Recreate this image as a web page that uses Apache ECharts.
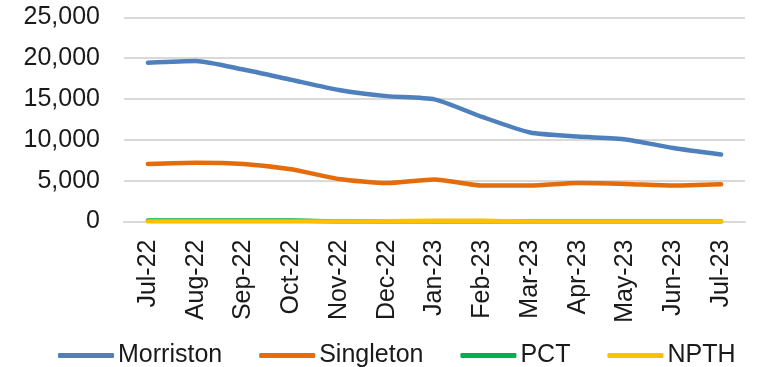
<!DOCTYPE html>
<html>
<head>
<meta charset="utf-8">
<script src="https://cdn.jsdelivr.net/npm/echarts@6/dist/echarts.min.js"></script>
<style>
  html, body { margin: 0; padding: 0; background: #fff; }
  #chart { width: 760px; height: 367px; }
</style>
</head>
<body>
<div id="chart"></div>
<script>
// Monthly counts by site
const months = ['Jul-22','Aug-22','Sep-22','Oct-22','Nov-22','Dec-22','Jan-23','Feb-23','Mar-23','Apr-23','May-23','Jun-23','Jul-23'];
const morriston = [19450, 19650, 18600, 17350, 16100, 15350, 14950, 12800, 10900, 10400, 10050, 9000, 8200];
const singleton = [7050, 7200, 7050, 6400, 5200, 4700, 5150, 4400, 4400, 4700, 4600, 4400, 4550];
const pct = [120, 120, 120, 120, 0, 0, 0, 0, 0, 0, 0, 0, 0];
const npth = [0, 0, 0, 0, 0, 20, 90, 90, 0, 0, 0, 0, 0];
const yTicks = { min: 0, max: 25000, interval: 5000 };

const textColor = '#1a1a1a';
const font = '"Liberation Sans", Arial, sans-serif';

function lineSeries(name, data, color) {
  return {
    name: name,
    type: 'line',
    data: data,
    smooth: 0.2,
    symbol: 'none',
    lineStyle: { color: color, width: 4.5, cap: 'round', join: 'round' },
    itemStyle: { color: color }
  };
}

const chart = echarts.init(document.getElementById('chart'), null, { renderer: 'canvas' });
chart.setOption({
  animation: false,
  backgroundColor: '#ffffff',
  grid: { left: 124, right: 15, top: 17.3, bottom: 145.5, containLabel: false },
  legend: {
    left: 53,
    top: 338,
    icon: 'roundRect',
    itemWidth: 56,
    itemHeight: 5,
    itemGap: 37,
    textStyle: { color: textColor, fontSize: 25, fontFamily: font, padding: [0, 0, 0, -1] },
    data: ['Morriston', 'Singleton', 'PCT', 'NPTH']
  },
  xAxis: {
    type: 'category',
    data: months,
    boundaryGap: true,
    axisLine: { show: true, lineStyle: { color: '#d9d9d9', width: 2 } },
    axisTick: { show: false },
    axisLabel: { rotate: 90, margin: 18, color: textColor, fontSize: 25, fontFamily: font }
  },
  yAxis: {
    type: 'value',
    min: yTicks.min,
    max: yTicks.max,
    interval: yTicks.interval,
    axisLine: { show: false },
    axisTick: { show: false },
    splitLine: { lineStyle: { color: '#d9d9d9', width: 2 } },
    axisLabel: {
      margin: 24,
      color: textColor,
      fontSize: 25,
      fontFamily: font,
      formatter: v => v.toLocaleString('en-US')
    }
  },
  series: [
    lineSeries('Morriston', morriston, '#4E80BE'),
    lineSeries('Singleton', singleton, '#E46C0A'),
    lineSeries('PCT', pct, '#00B050'),
    lineSeries('NPTH', npth, '#FFC000')
  ]
});
</script>
</body>
</html>
